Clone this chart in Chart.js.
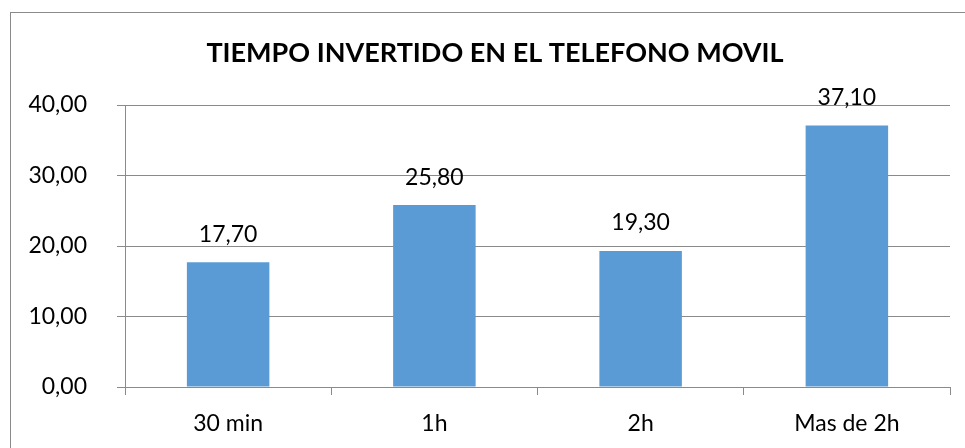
<!DOCTYPE html>
<html>
<head>
<meta charset="utf-8">
<script src="https://cdn.jsdelivr.net/npm/chart.js@4.4.1/dist/chart.umd.min.js"></script>
<style>
  html, body { margin: 0; padding: 0; background: #fff; overflow: hidden; }
  #wrap { position: relative; width: 965px; height: 448px; }
  #frame { position: absolute; left: 10px; top: 12px; width: 1000px; height: 500px;
           border-left: 1px solid #8a8a8a; border-top: 1px solid #8a8a8a; }
  canvas { position: absolute; left: 0; top: 0; }
</style>
</head>
<body>
<div id="wrap">
  <div id="frame"></div>
  <canvas id="chart" width="965" height="448"></canvas>
</div>
<script>
// Categories
const categories = ['30 min', '1h', '2h', 'Mas de 2h'];

// Values (minutes share)
const values = [17.70, 25.80, 19.30, 37.10];

// Axis ticks
const yTicks = [0, 10, 20, 30, 40];

const chartTitle = 'TIEMPO INVERTIDO EN EL TELEFONO MOVIL';
const fontName = 'Lato, "Open Sans", sans-serif';

function fmt(v) {
    return v.toFixed(2).replace('.', ',');
}

// Title + value labels drawn by hand
const decorPlugin = {
    id: 'decor',
    afterDatasetsDraw(chart) {
        const ctx = chart.ctx;
        ctx.save();
        ctx.fillStyle = '#000';
        ctx.textAlign = 'center';
        ctx.textBaseline = 'middle';
        ctx.font = 'bold 27px ' + fontName;
        ctx.fillText(chartTitle, 495, 53);
        ctx.font = '23px ' + fontName;
        chart.getDatasetMeta(0).data.forEach((bar, i) => {
            ctx.fillText(fmt(values[i]), bar.x, bar.y - 28);
        });
        ctx.restore();
    }
};

const ctx = document.getElementById('chart').getContext('2d');
new Chart(ctx, {
    type: 'bar',
    data: {
        labels: categories,
        datasets: [{
            data: values,
            backgroundColor: '#5b9bd5',
            borderWidth: 0,
            barPercentage: 0.4,
            categoryPercentage: 1.0,
        }],
    },
    options: {
        responsive: false,
        animation: false,
        layout: { padding: { top: 105, right: 15, left: 0, bottom: 0 } },
        plugins: {
            legend: { display: false },
            title: { display: false },
            tooltip: { enabled: false },
        },
        scales: {
            x: {
                afterFit: (s) => { s.height = 61; },
                grid: {
                    offset: true,
                    drawOnChartArea: false,
                    drawTicks: true,
                    tickLength: 8,
                    color: '#8a8a8a',
                },
                border: { color: '#8a8a8a', width: 1 },
                ticks: {
                    color: '#000',
                    padding: 15,
                    font: { family: fontName, size: 23 },
                },
            },
            y: {
                min: 0,
                max: 40,
                afterFit: (s) => { s.width = 125; },
                afterBuildTicks: (s) => { s.ticks = yTicks.map(v => ({ value: v })); },
                grid: {
                    color: '#8a8a8a',
                    tickLength: 8,
                },
                border: { color: '#8a8a8a', width: 1 },
                ticks: {
                    color: '#000',
                    padding: 30,
                    font: { family: fontName, size: 23 },
                    callback: (v) => fmt(v),
                },
            },
        },
    },
    plugins: [decorPlugin],
});
</script>
</body>
</html>
